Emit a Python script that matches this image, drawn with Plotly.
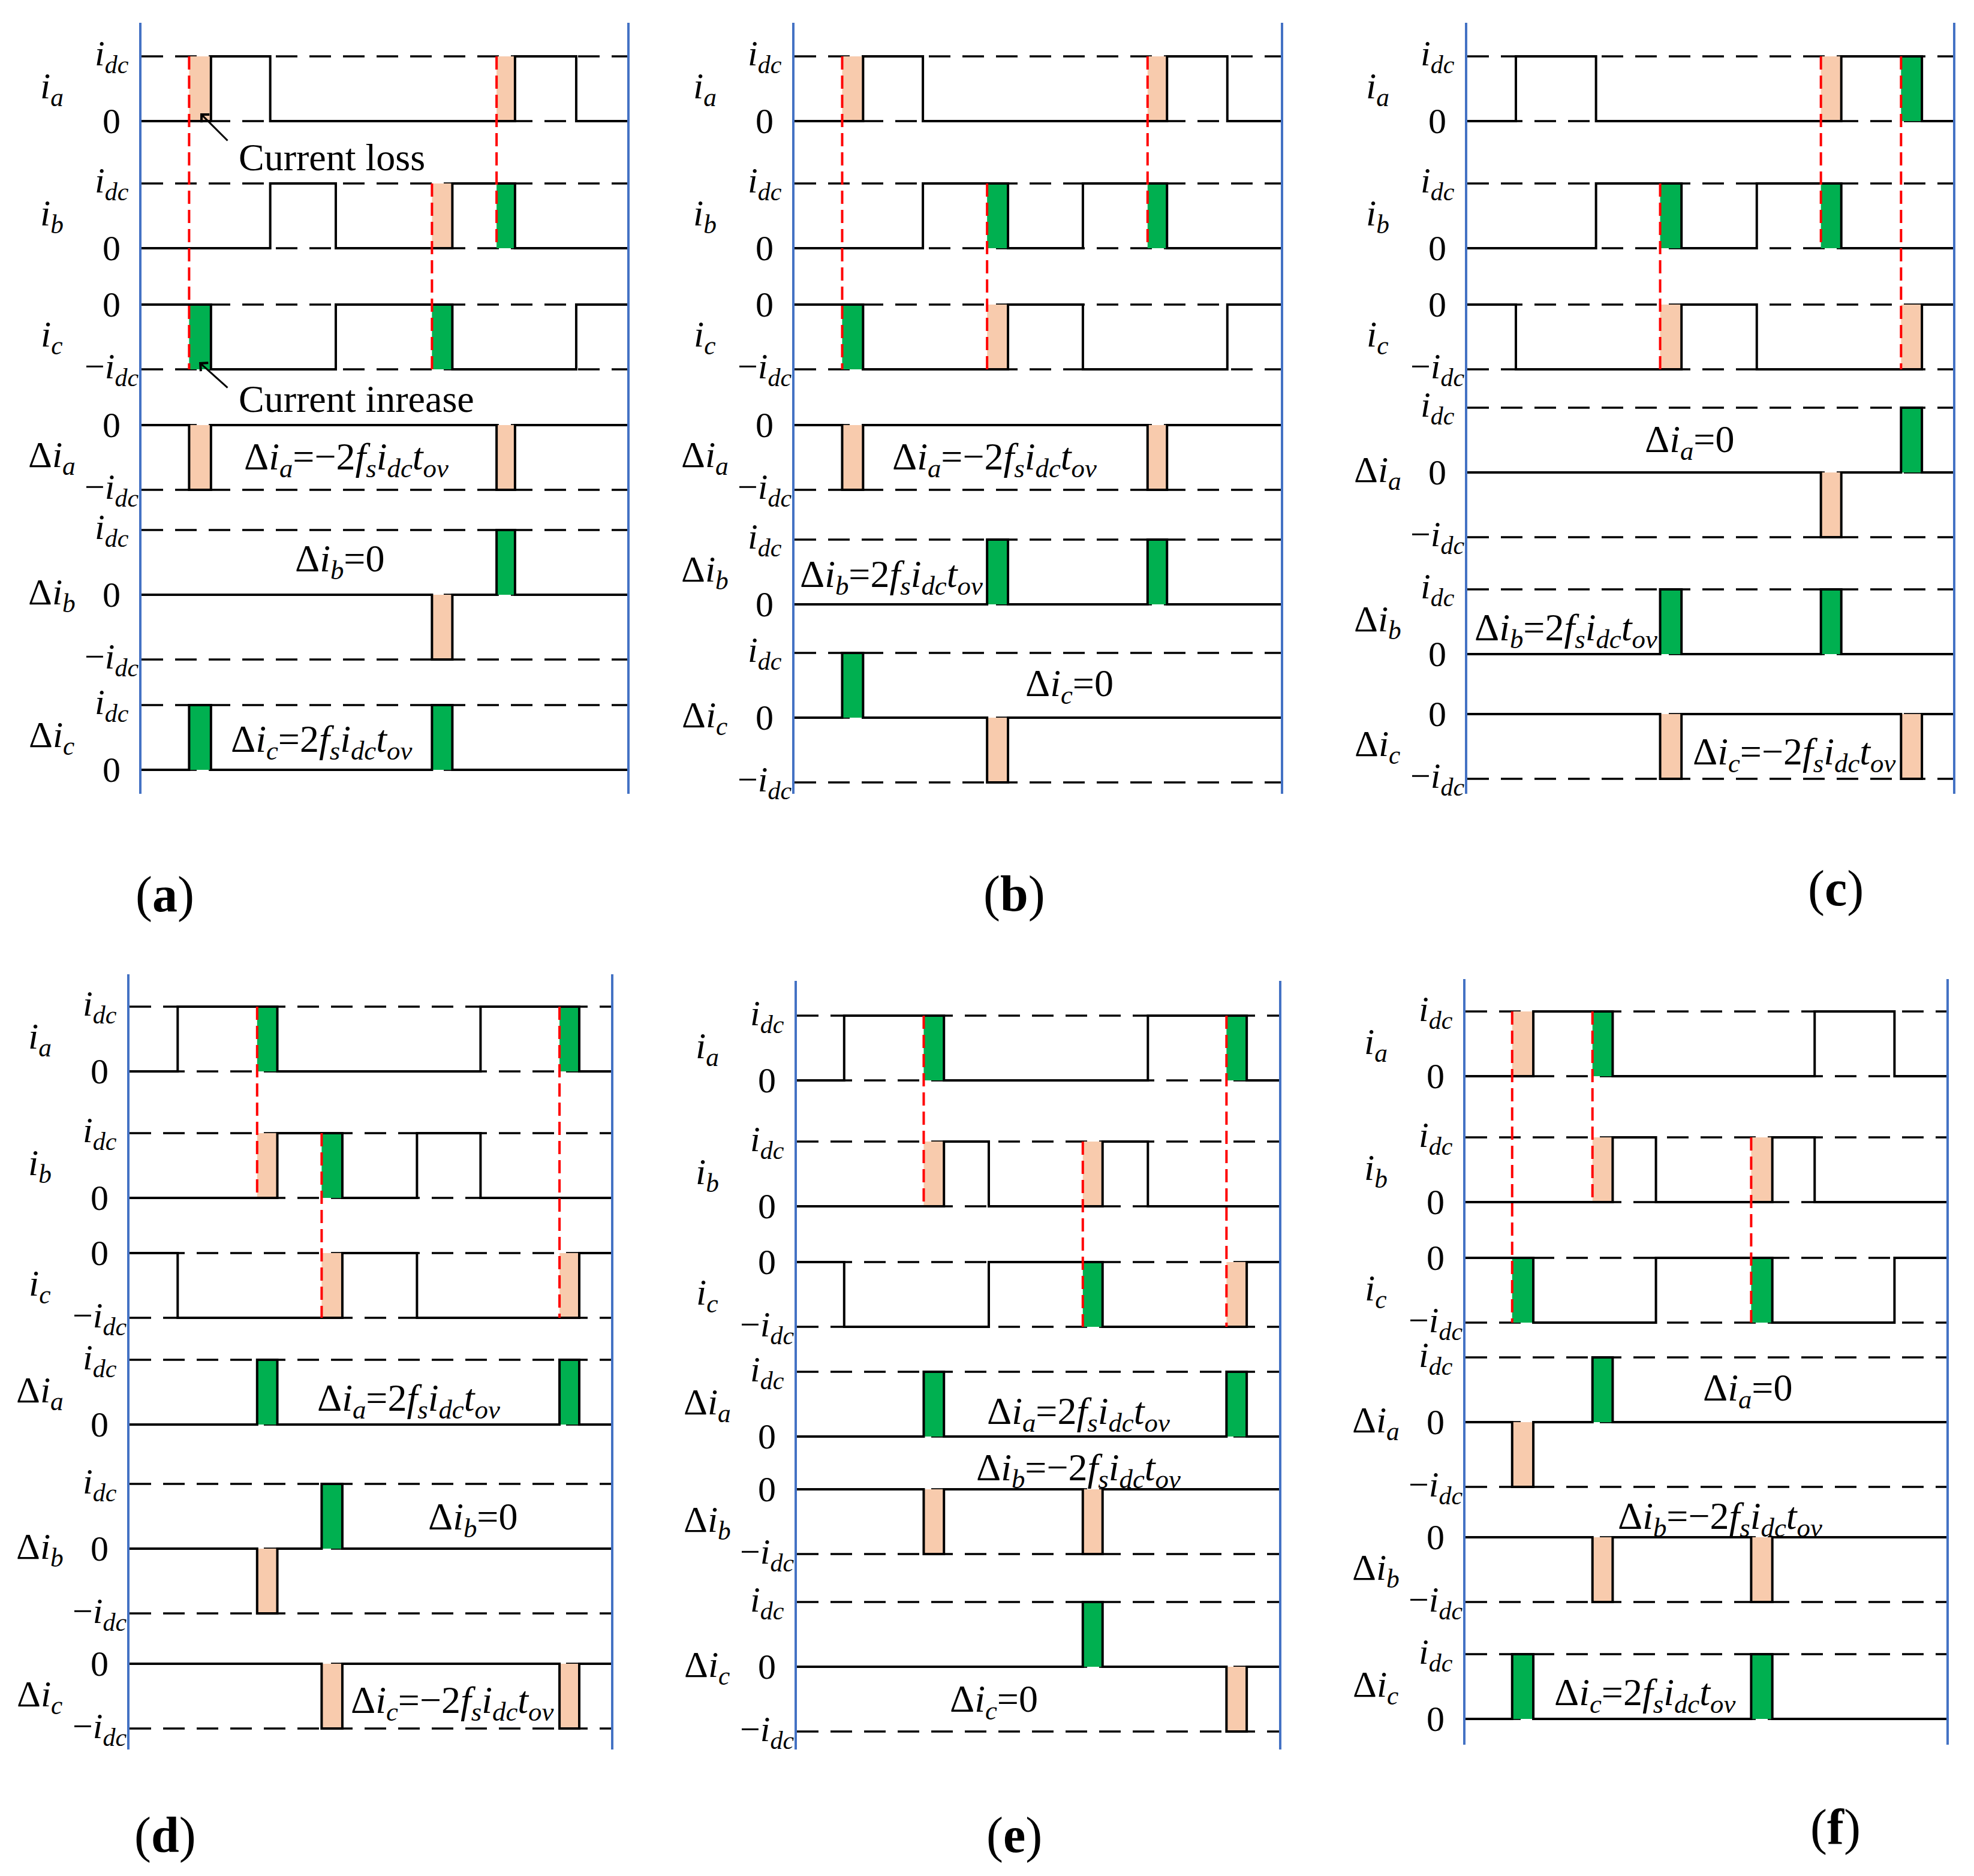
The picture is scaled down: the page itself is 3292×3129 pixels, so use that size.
import plotly.graph_objects as go

W, H = 3292, 3129
IDC_PX = 108  # height of one i_dc step on the canvas

ORANGE = "#F8CBAD"
GREEN = "#00B050"
RED = "#FF0000"
BLUE = "#4472C4"
FONT = "'Liberation Serif', 'Times New Roman', Times, serif"

PANELS = ["a", "b", "c", "d", "e", "f"]
ROW_KEYS = ["ia", "ib", "ic"]

# ---- data ------------------------------------------------------------------
# phase currents: (instant as fraction of the window, level after the edge in i_dc)
EDGES_A = {
    "ia": [(0.143, 1), (0.265, 0), (0.769, 1), (0.895, 0)],
    "ib": [(0.265, 1), (0.400, 0), (0.640, 1), (0.769, 0)],
    "ic": [(0.143, -1), (0.400, 0), (0.640, -1), (0.895, 0)],
}
# overlap pulses of the current deviation: (start, end, sign)
PULSES_A = {
    "ia": [(0.098, 0.143, -1), (0.731, 0.769, -1)],
    "ib": [(0.598, 0.640, -1), (0.731, 0.769, 1)],
    "ic": [(0.098, 0.143, 1), (0.598, 0.640, 1)],
}

EDGES_B = {
    "ia": [(0.141, 1), (0.264, 0), (0.766, 1), (0.890, 0)],
    "ib": [(0.264, 1), (0.439, 0), (0.593, 1), (0.766, 0)],
    "ic": [(0.141, -1), (0.439, 0), (0.593, -1), (0.890, 0)],
}
PULSES_B = {
    "ia": [(0.098, 0.141, -1), (0.726, 0.766, -1)],
    "ib": [(0.396, 0.439, 1), (0.726, 0.766, 1)],
    "ic": [(0.098, 0.141, 1), (0.396, 0.439, -1)],
}

EDGES_C = {
    "ia": [(0.100, 1), (0.265, 0), (0.770, 1), (0.936, 0)],
    "ib": [(0.265, 1), (0.441, 0), (0.596, 1), (0.770, 0)],
    "ic": [(0.100, -1), (0.441, 0), (0.596, -1), (0.936, 0)],
}
PULSES_C = {
    "ia": [(0.728, 0.770, -1), (0.893, 0.936, 1)],
    "ib": [(0.397, 0.441, 1), (0.728, 0.770, 1)],
    "ic": [(0.397, 0.441, -1), (0.893, 0.936, -1)],
}

EDGES_D = {
    "ia": [(0.100, 1), (0.307, 0), (0.729, 1), (0.934, 0)],
    "ib": [(0.307, 1), (0.442, 0), (0.597, 1), (0.729, 0)],
    "ic": [(0.100, -1), (0.442, 0), (0.597, -1), (0.934, 0)],
}
PULSES_D = {
    "ia": [(0.265, 0.307, 1), (0.893, 0.934, 1)],
    "ib": [(0.265, 0.307, -1), (0.399, 0.442, 1)],
    "ic": [(0.399, 0.442, -1), (0.893, 0.934, -1)],
}

EDGES_E = {
    "ia": [(0.098, 1), (0.305, 0), (0.728, 1), (0.933, 0)],
    "ib": [(0.305, 1), (0.398, 0), (0.634, 1), (0.728, 0)],
    "ic": [(0.098, -1), (0.398, 0), (0.634, -1), (0.933, 0)],
}
PULSES_E = {
    "ia": [(0.263, 0.305, 1), (0.891, 0.933, 1)],
    "ib": [(0.263, 0.305, -1), (0.593, 0.634, -1)],
    "ic": [(0.593, 0.634, 1), (0.891, 0.933, -1)],
}

EDGES_F = {
    "ia": [(0.141, 1), (0.306, 0), (0.726, 1), (0.892, 0)],
    "ib": [(0.306, 1), (0.396, 0), (0.638, 1), (0.726, 0)],
    "ic": [(0.141, -1), (0.396, 0), (0.638, -1), (0.892, 0)],
}
PULSES_F = {
    "ia": [(0.097, 0.141, -1), (0.264, 0.306, 1)],
    "ib": [(0.264, 0.306, -1), (0.594, 0.638, -1)],
    "ic": [(0.097, 0.141, 1), (0.594, 0.638, 1)],
}

PANEL_DATA = {
    "a": (EDGES_A, PULSES_A), "b": (EDGES_B, PULSES_B), "c": (EDGES_C, PULSES_C),
    "d": (EDGES_D, PULSES_D), "e": (EDGES_E, PULSES_E), "f": (EDGES_F, PULSES_F),
}

ROW_TEXT = [
    "<i>i</i><sub><i>a</i></sub>", "<i>i</i><sub><i>b</i></sub>", "<i>i</i><sub><i>c</i></sub>",
    "Δ<i>i</i><sub><i>a</i></sub>", "Δ<i>i</i><sub><i>b</i></sub>", "Δ<i>i</i><sub><i>c</i></sub>",
]
LEVEL_TEXT = {1: "<i>i</i><sub><i>dc</i></sub>", 0: "0", -1: "−<i>i</i><sub><i>dc</i></sub>"}

# ---- layout (canvas px) ----------------------------------------------------
# left / right blue line, top / bottom of the panel
PANEL_BOX = {
    "a": (236, 1046, 38, 1324), "b": (1325, 2136, 38, 1324), "c": (2447, 3257, 38, 1324),
    "d": (216, 1019, 1625, 2918), "e": (1329, 2133, 1636, 2918), "f": (2444, 3246, 1633, 2910),
}
# zero level of each of the six rows
ROW_ZERO_PX = {
    "a": [202, 414, 508, 709, 992, 1284],
    "b": [202, 414, 508, 709, 1008, 1197],
    "c": [202, 414, 508, 788, 1091, 1191],
    "d": [1787, 1998, 2090, 2376, 2583, 2775],
    "e": [1802, 2012, 2105, 2396, 2484, 2780],
    "f": [1795, 2005, 2098, 2372, 2564, 2867],
}
EQ_PX = {
    "a": [(577, 766), (566, 936), (536, 1237)],
    "b": [(1658, 766), (1486, 962), (1783, 1144)],
    "c": [(2817, 737), (2611, 1051), (2992, 1258)],
    "d": [(681, 2336), (788, 2534), (754, 2840)],
    "e": [(1798, 2358), (1798, 2452), (1657, 2838)],
    "f": [(2914, 2319), (2868, 2533), (2743, 2827)],
}
TAG_PX = {
    "a": (275, 1492), "b": (1692, 1491), "c": (3061, 1482),
    "d": (275, 3061), "e": (1692, 3061), "f": (3061, 3048),
}


def level_at(edges, t):
    lvl = 0
    for te, L in edges:
        if te <= t:
            lvl = L
    return lvl


def eq_text(row, pulses):
    n = sum(s for _, _, s in pulses)
    rhs = "0" if n == 0 else ("−" if n < 0 else "") + f"{abs(n)}<i>f</i><sub><i>s</i></sub><i>i</i><sub><i>dc</i></sub><i>t</i><sub><i>ov</i></sub>"
    return ROW_TEXT[row] + "=" + rhs


fig = go.Figure()
annotations = []
axes = {}

for n, p in enumerate(PANELS, start=1):
    edges, pulses = PANEL_DATA[p]
    x0, x1, y0, y1 = PANEL_BOX[p]
    sfx = "" if n == 1 else str(n)
    xa, ya = "x" + sfx, "y" + sfx
    axes["xaxis" + sfx] = dict(domain=[x0 / W, x1 / W], range=[0, 1], visible=False,
                               anchor=ya, fixedrange=True)
    axes["yaxis" + sfx] = dict(domain=[1 - y1 / H, 1 - y0 / H], range=[0, (y1 - y0) / IDC_PX],
                               anchor=xa, showline=True, mirror=True, linecolor=BLUE, linewidth=4,
                               showgrid=False, zeroline=False, showticklabels=False, ticks="",
                               fixedrange=True)

    def ypx(py):
        return (y1 - py) / IDC_PX

    def xpx(px):
        return (px - x0) / (x1 - x0)

    offs = [ypx(z) for z in ROW_ZERO_PX[p]]

    waves, levels = [], []
    for key in ROW_KEYS:
        waves.append(edges[key])
        levels.append(sorted({0} | {L for _, L in edges[key]}))
    for key in ROW_KEYS:
        e = []
        for t0, t1, s in pulses[key]:
            e += [(t0, s), (t1, 0)]
        waves.append(e)
        levels.append(sorted({0} | {s for _, _, s in pulses[key]}))

    # dashed reference levels
    dx, dy = [], []
    for off, lv in zip(offs, levels):
        for L in lv:
            dx += [0, 1, None]
            dy += [off + L, off + L, None]
    fig.add_trace(go.Scatter(x=dx, y=dy, xaxis=xa, yaxis=ya, mode="lines", hoverinfo="skip",
                             line=dict(color="black", width=3.5, dash="36px,20px")))

    # shaded overlap areas: in the deviation row and between actual/ideal phase current
    fills = {1: ([], []), -1: ([], [])}
    for k, key in enumerate(ROW_KEYS):
        for t0, t1, s in pulses[key]:
            fx, fy = fills[s]
            act = level_at(edges[key], (t0 + t1) / 2)
            for lo, hi in ((offs[k + 3], offs[k + 3] + s), (offs[k] + act, offs[k] + act - s)):
                fx += [t0, t1, t1, t0, t0, None]
                fy += [lo, lo, hi, hi, lo, None]
    for s, color in ((1, GREEN), (-1, ORANGE)):
        fx, fy = fills[s]
        fig.add_trace(go.Scatter(x=fx, y=fy, xaxis=xa, yaxis=ya, mode="lines", fill="toself",
                                 fillcolor=color, line=dict(width=0, color=color), hoverinfo="skip"))

    # waveforms
    for off, e in zip(offs, waves):
        xs = [0] + [t for t, _ in e] + [1]
        ys = [0] + [L for _, L in e] + [e[-1][1] if e else 0]
        fig.add_trace(go.Scatter(x=xs, y=[off + v for v in ys], xaxis=xa, yaxis=ya, mode="lines",
                                 line=dict(color="black", width=4, shape="hv"), hoverinfo="skip"))

    # red dashed ideal commutation instants
    starts = {}
    for k, key in enumerate(ROW_KEYS):
        for t0, _, _ in pulses[key]:
            starts.setdefault(t0, []).append(k)
    rx, ry = [], []
    for t0, rows in starts.items():
        rx += [t0, t0, None]
        ry += [max(offs[k] + levels[k][-1] for k in rows),
               min(offs[k] + levels[k][0] for k in rows), None]
    fig.add_trace(go.Scatter(x=rx, y=ry, xaxis=xa, yaxis=ya, mode="lines", hoverinfo="skip",
                             line=dict(color=RED, width=4, dash="22px,10px")))

    # level labels and row names
    for k, (off, lv) in enumerate(zip(offs, levels)):
        for L in lv:
            annotations.append(dict(xref=xa + " domain", yref=ya, x=0, y=off + L, xshift=-50,
                                    xanchor="center", yanchor="middle", showarrow=False,
                                    text=LEVEL_TEXT[L], font=dict(family=FONT, size=60, color="black")))
        annotations.append(dict(xref=xa + " domain", yref=ya, x=0, y=off + (lv[0] + lv[-1]) / 2,
                                xshift=-150, xanchor="center", yanchor="middle", showarrow=False,
                                text=ROW_TEXT[k], font=dict(family=FONT, size=62, color="black")))

    # equations
    for k, key in enumerate(ROW_KEYS):
        ex, ey = EQ_PX[p][k]
        annotations.append(dict(xref=xa, yref=ya, x=xpx(ex), y=ypx(ey), xanchor="center",
                                yanchor="middle", showarrow=False, text=eq_text(k + 3, pulses[key]),
                                font=dict(family=FONT, size=64, color="black")))

    if p == "a":
        for txt, tx, ty, hx, hy, ax, ay in (("Current loss", 396, 263, 334, 189, 47, 47),
                                            ("Current inrease", 396, 666, 332, 604, 49, 44)):
            annotations.append(dict(xref=xa, yref=ya, x=xpx(tx), y=ypx(ty), xanchor="left",
                                    yanchor="middle", showarrow=False, text=txt,
                                    font=dict(family=FONT, size=64, color="black")))
            annotations.append(dict(xref=xa, yref=ya, x=xpx(hx), y=ypx(hy), ax=ax, ay=ay, text="",
                                    showarrow=True, arrowhead=4, arrowsize=1.2, arrowwidth=3,
                                    arrowcolor="black"))

    tx, ty = TAG_PX[p]
    annotations.append(dict(xref="paper", yref="paper", x=tx / W, y=1 - ty / H, xanchor="center",
                            yanchor="middle", showarrow=False, text=f"(<b>{p}</b>)",
                            font=dict(family=FONT, size=84, color="black")))

fig.update_layout(
    width=W, height=H,
    margin=dict(l=0, r=0, t=0, b=0),
    paper_bgcolor="white", plot_bgcolor="white",
    showlegend=False, hovermode=False,
    font=dict(family=FONT),
    annotations=annotations,
    **axes,
)

fig.write_html("out.html", config={"displayModeBar": False},
               post_script="document.body.style.margin='0';")
